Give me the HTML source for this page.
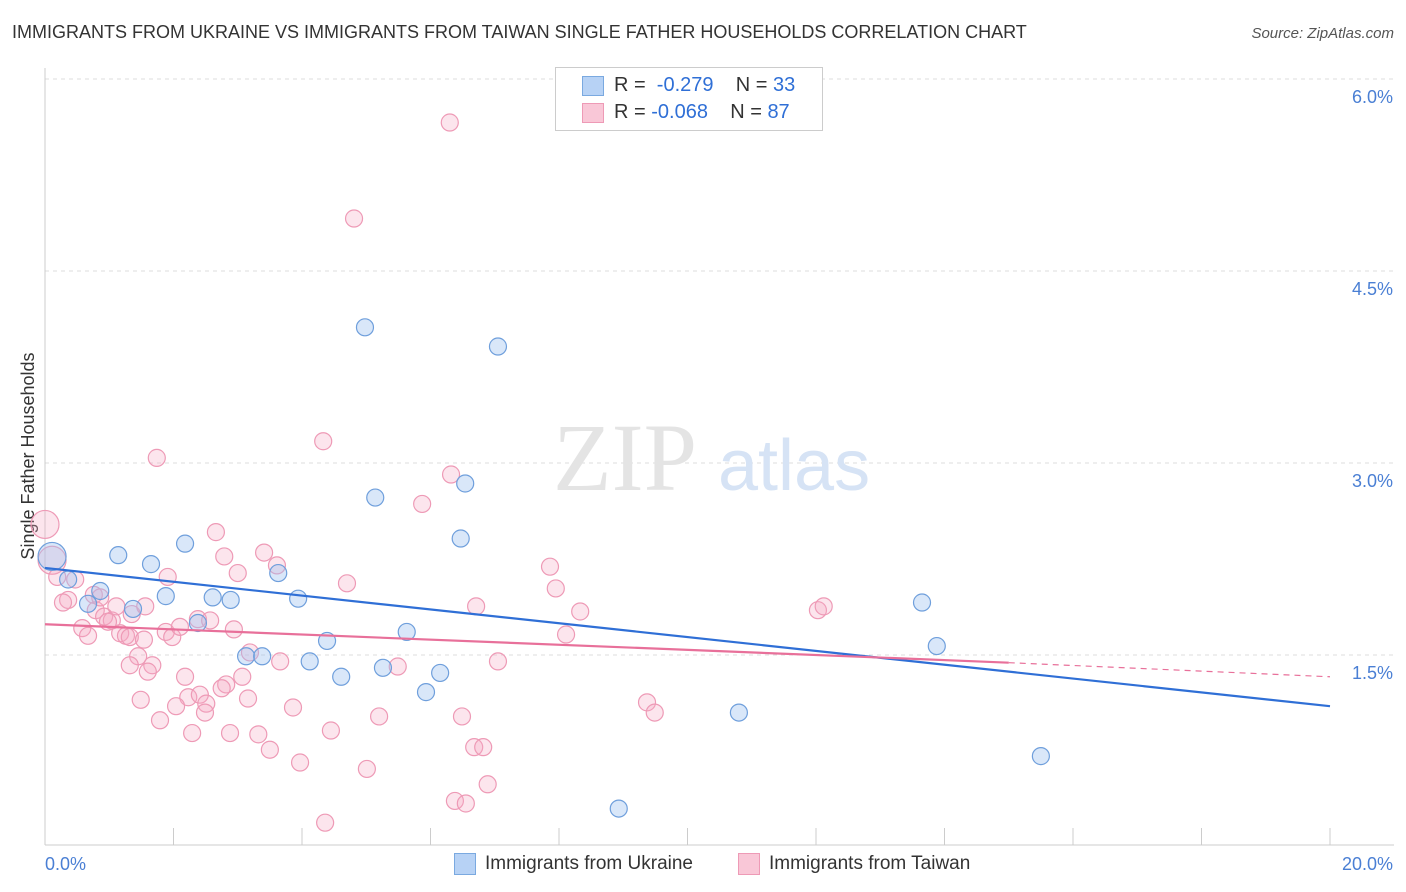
<!DOCTYPE html>
<html><head><meta charset="utf-8">
<style>
body{margin:0;background:#fff;font-family:"Liberation Sans",sans-serif;}
#wrap{position:relative;width:1406px;height:892px;overflow:hidden;}
.t{position:absolute;white-space:nowrap;}
</style></head><body>
<div id="wrap">
<div class="t" style="left:12px;top:22px;font-size:18px;color:#333;">IMMIGRANTS FROM UKRAINE VS IMMIGRANTS FROM TAIWAN SINGLE FATHER HOUSEHOLDS CORRELATION CHART</div>
<div class="t" style="right:12px;top:25px;font-size:15px;color:#555;font-style:italic;">Source: ZipAtlas.com</div>
<svg id="svg" width="1406" height="892" style="position:absolute;left:0;top:0"></svg>
</div>
<script>
const xTickLabels=["0.0%","20.0%"];
const yTicks=[1.5,3.0,4.5,6.0];
const yTickLabels=["1.5%","3.0%","4.5%","6.0%"];
const ukraineX=[0.11,0.36,0.86,0.67,1.14,1.65,1.37,1.88,2.18,2.61,2.89,2.38,3.63,3.13,3.38,3.94,4.39,4.12,4.61,5.26,4.98,5.14,5.63,5.93,6.15,6.47,6.54,7.05,8.93,10.80,13.65,13.88,15.50];
const ukraineY=[2.27,2.09,2.00,1.90,2.28,2.21,1.86,1.96,2.37,1.95,1.93,1.75,2.14,1.49,1.49,1.94,1.61,1.45,1.33,1.40,4.06,2.73,1.68,1.21,1.36,2.41,2.84,3.91,0.30,1.05,1.91,1.57,0.71];
const taiwanX=[0.00,0.11,0.19,0.47,0.36,0.28,0.76,0.79,0.92,1.04,0.58,0.67,1.11,1.17,1.26,1.32,1.35,1.56,1.45,1.67,1.60,1.49,1.74,1.91,1.88,1.98,2.10,2.18,2.23,1.79,2.04,2.29,2.38,2.57,2.41,2.51,2.49,2.66,2.79,3.00,2.94,2.82,2.75,3.07,3.16,2.88,3.41,3.61,3.66,3.19,3.50,3.32,3.86,3.97,4.33,4.70,4.45,4.36,4.81,5.01,5.20,5.49,6.30,6.32,5.87,6.71,6.49,6.68,6.82,6.89,6.38,6.55,7.05,7.86,7.95,8.11,8.33,9.37,9.49,12.03,12.12,0.86,0.98,1.54,1.32];
const taiwanY=[2.52,2.24,2.11,2.09,1.93,1.91,1.97,1.85,1.80,1.77,1.71,1.65,1.88,1.67,1.65,1.64,1.82,1.88,1.49,1.42,1.37,1.15,3.04,2.11,1.68,1.64,1.72,1.33,1.17,0.99,1.10,0.89,1.78,1.77,1.19,1.12,1.05,2.46,2.27,2.14,1.70,1.27,1.24,1.33,1.16,0.89,2.30,2.20,1.45,1.52,0.76,0.88,1.09,0.66,3.17,2.06,0.91,0.19,4.91,0.61,1.02,1.41,5.66,2.91,2.68,1.88,1.02,0.78,0.78,0.49,0.36,0.34,1.45,2.19,2.02,1.66,1.84,1.13,1.05,1.85,1.88,1.95,1.76,1.62,1.42];
const ukraineTrendX=[0,20];
const ukraineTrendY=[2.18,1.10];
const taiwanTrendX=[0,15,20];
const taiwanTrendY=[1.74,1.44,1.33];

const X=v=>45+v/20*1285;
const Y=v=>847-v*128;
const svg=document.getElementById('svg');
const NS='http://www.w3.org/2000/svg';
function mk(tag,attrs,parent){const e=document.createElementNS(NS,tag);for(const k in attrs)e.setAttribute(k,attrs[k]);(parent||svg).appendChild(e);return e;}

// gridlines
yTicks.forEach((t,i)=>{
 const g=mk('line',{x1:45,x2:1394,y1:Y(t),y2:Y(t),stroke:'#ddd','stroke-dasharray':'4,4'});
 
 
 const tx=mk('text',{x:1393,y:Y(t)+24,'text-anchor':'end','font-size':18,fill:'#4a7fd4','font-family':'Liberation Sans'});
 tx.textContent=yTickLabels[i];
 
 
});
mk('line',{x1:45,x2:1394,y1:Y(6.0)-0,y2:Y(6.0),stroke:'#ddd','stroke-dasharray':'4,4'});
// axes
const ax=mk('line',{x1:45,x2:1394,y1:845,y2:845,stroke:'#ccc'});


const ay=mk('line',{x1:45,x2:45,y1:68,y2:845,stroke:'#ccc'});


for(let i=0;i<=10;i++){const tk=mk('line',{x1:X(i*2),x2:X(i*2),y1:828,y2:845,stroke:'#ccc'});
 
 }
const xl0=mk('text',{x:45,y:870,'font-size':18,fill:'#4a7fd4','font-family':'Liberation Sans'});xl0.textContent=xTickLabels[0];


const xl1=mk('text',{x:1393,y:870,'text-anchor':'end','font-size':18,fill:'#4a7fd4','font-family':'Liberation Sans'});xl1.textContent=xTickLabels[1];


const yt=mk('text',{x:0,y:0,transform:'translate(34,456) rotate(-90)','text-anchor':'middle','font-size':18,fill:'#333','font-family':'Liberation Sans'});yt.textContent='Single Father Households';


// watermark
const wm=mk('text',{x:553,y:490,'font-size':96,fill:'#e4e4e4','font-family':'Liberation Serif'});wm.textContent='ZIP';


const wm2=mk('text',{x:718,y:490,'font-size':72,fill:'#d6e3f5','font-family':'Liberation Sans'});wm2.textContent='atlas';


// points
taiwanX.forEach((v,i)=>{const r=(i<2)?14:8.5;const c=mk('circle',{cx:X(v),cy:Y(taiwanY[i]),r:r,fill:'rgba(246,170,195,0.3)',stroke:'#ee9ab6','stroke-width':1.2});
 
 });
ukraineX.forEach((v,i)=>{const r=(i<1)?14:8.5;const c=mk('circle',{cx:X(v),cy:Y(ukraineY[i]),r:r,fill:'rgba(160,196,240,0.4)',stroke:'#6f9fdc','stroke-width':1.2});
 
 });
// trends
const bt=mk('line',{x1:X(ukraineTrendX[0]),y1:Y(ukraineTrendY[0]),x2:X(ukraineTrendX[1]),y2:Y(ukraineTrendY[1]),stroke:'#2f6fd6','stroke-width':2.2});


const pt=mk('line',{x1:X(taiwanTrendX[0]),y1:Y(taiwanTrendY[0]),x2:X(taiwanTrendX[1]),y2:Y(taiwanTrendY[1]),stroke:'#e8709a','stroke-width':2.2});


const pd=mk('line',{x1:X(taiwanTrendX[1]),y1:Y(taiwanTrendY[1]),x2:X(taiwanTrendX[2]),y2:Y(taiwanTrendY[2]),stroke:'#e8709a','stroke-width':1.2,'stroke-dasharray':'6,5'});


</script>
<div class="t" style="left:555px;top:67px;width:266px;height:62px;border:1px solid #ccc;background:#fff;font-size:20px;">
 <div style="position:absolute;left:26px;top:8px;width:20px;height:18px;background:#b7d2f5;border:1px solid #7aa9e0;"></div>
 <div class="t" style="left:58px;top:6px;color:#333;">R = <span style="color:#2f6fd6">&nbsp;-0.279</span>&nbsp;&nbsp;&nbsp; N = <span style="color:#2f6fd6">33</span></div>
 <div style="position:absolute;left:26px;top:35px;width:20px;height:18px;background:#f9c7d7;border:1px solid #ee9ab6;"></div>
 <div class="t" style="left:58px;top:33px;color:#333;">R = <span style="color:#2f6fd6">-0.068</span>&nbsp;&nbsp;&nbsp; N = <span style="color:#2f6fd6">87</span></div>
</div>
<div style="position:absolute;left:454px;top:853px;width:20px;height:20px;background:#b7d2f5;border:1px solid #7aa9e0;"></div>
<div class="t" style="left:485px;top:853px;font-size:19px;color:#333;">Immigrants from Ukraine</div>
<div style="position:absolute;left:738px;top:853px;width:20px;height:20px;background:#f9c7d7;border:1px solid #ee9ab6;"></div>
<div class="t" style="left:769px;top:853px;font-size:19px;color:#333;">Immigrants from Taiwan</div>
</body></html>
